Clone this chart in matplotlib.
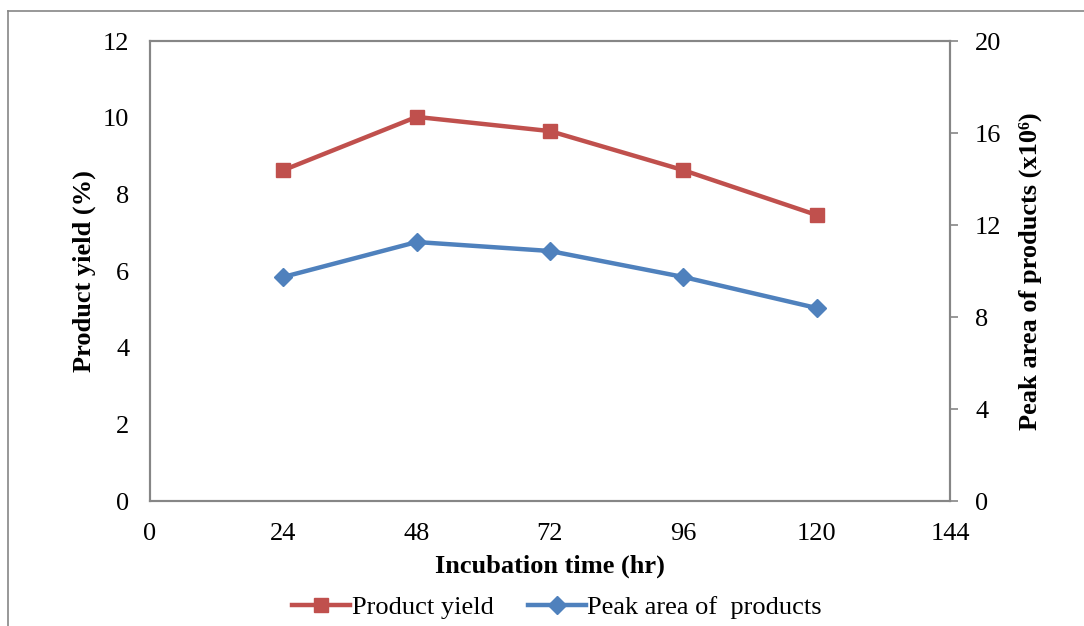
import numpy as np
import matplotlib
matplotlib.use("Agg")
import matplotlib.pyplot as plt
from matplotlib.lines import Line2D

# ===== Dados =====
tempo = [24, 48, 72, 96, 120]
rendimento = [8.63, 10.02, 9.65, 8.63, 7.46]      # Product yield (%)
area_pico = [9.74, 11.26, 10.87, 9.74, 8.39]      # Peak area (x10^6)

xticks = [0, 24, 48, 72, 96, 120, 144]
yticks_esq = [0, 2, 4, 6, 8, 10, 12]
yticks_dir = [0, 4, 8, 12, 16, 20]

vermelho = "#C0504D"
azul = "#4F81BD"
cinza = "#868686"

plt.rcParams['font.family'] = ['Liberation Serif', 'DejaVu Serif']
fs = 19

W, H = 1084, 626
fig = plt.figure(figsize=(W / 100, H / 100), dpi=100)
ax = fig.add_axes([150 / W, 1 - 501 / H, 800 / W, 460 / H])
ax2 = ax.twinx()

# moldura externa (cortada)
fig.add_artist(Line2D([8 / W, 8 / W], [0, 1 - 11 / H], color=cinza, lw=1.2))
fig.add_artist(Line2D([8 / W, 1], [1 - 11 / H, 1 - 11 / H], color=cinza, lw=1.2))

l1, = ax.plot(tempo, rendimento, color=vermelho, lw=3.2, marker='s', markersize=10,
              label="Product yield")
l2, = ax2.plot(tempo, area_pico, color=azul, lw=3.2, marker='D', markersize=9,
               label="Peak area of  products")

ax.set_xlim(0, 144)
ax.set_ylim(0, 12)
ax2.set_ylim(0, 20)
ax.set_xticks(xticks)
ax.set_yticks(yticks_esq)
ax2.set_yticks(yticks_dir)

for a in (ax, ax2):
    for s in a.spines.values():
        s.set_color(cinza)
        s.set_linewidth(1.5)

ax.tick_params(axis='y', length=0, labelsize=fs, pad=15)
ax.tick_params(axis='x', length=0, labelsize=fs, pad=16)
ax2.tick_params(axis='y', length=6, width=1.2, color=cinza, labelsize=fs, pad=12)

ax.set_xlabel("Incubation time (hr)", fontsize=fs, fontweight='bold', labelpad=7)
ax.set_ylabel("Product yield (%)", fontsize=fs, fontweight='bold', labelpad=5)
ax2.set_ylabel("Peak area of products (x10\u2076)", fontsize=fs, fontweight='bold',
               labelpad=12)

fig.legend(handles=[l1, l2], loc='center', bbox_to_anchor=(557 / W, 1 - 607 / H),
           ncol=2, frameon=False, fontsize=fs, handlelength=2.2, handletextpad=0.05,
           columnspacing=1.3)

plt.savefig("out.png", dpi=100)
